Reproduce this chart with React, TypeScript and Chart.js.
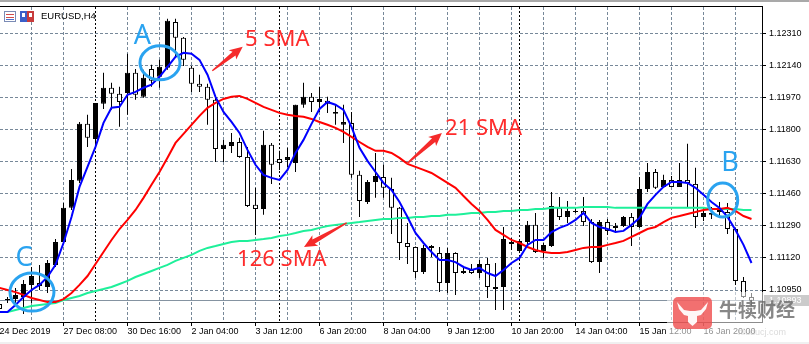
import React, { useEffect, useRef } from 'react';
import { Chart, registerables } from 'chart.js';
Chart.register(...registerables);

// ---- Candles (EURUSD H4), bar index 0..94 ----
const opens = [1.10876,1.10897,1.10902,1.10913,1.10977,1.10987,1.10966,1.11083,1.11204,1.11385,
1.11528,1.11830,1.11750,1.11936,1.12021,1.11989,1.11994,1.12100,1.11973,1.12121,
1.12079,1.12127,1.12370,1.12286,1.12127,1.12042,1.12026,1.11957,1.11697,1.11713,
1.11734,1.11655,1.11401,1.11379,1.11719,1.11644,1.11639,1.11623,1.11931,1.11973,
1.11946,1.11952,1.11883,1.11825,1.11835,1.11560,1.11416,1.11522,1.11549,1.11485,
1.11385,1.11199,1.11178,1.11045,1.11173,1.11146,1.10987,1.11146,1.11040,1.11056,
1.11040,1.11088,1.10955,1.10966,1.11194,1.11157,1.11204,1.11295,1.11157,1.11183,
1.11385,1.11337,1.11363,1.11369,1.11310,1.11098,1.11310,1.11279,1.11289,1.11337,
1.11284,1.11485,1.11575,1.11496,1.11533,1.11496,1.11533,1.11512,1.11337,1.11358,
1.11363,1.11363,1.11273,1.10998,1.10913];
const highs = [1.10886,1.10913,1.10961,1.11003,1.11072,1.11083,1.11109,1.11220,1.11411,1.11591,
1.11840,1.11878,1.11941,1.12100,1.12047,1.12026,1.12201,1.12121,1.12116,1.12143,
1.12169,1.12386,1.12386,1.12290,1.12137,1.12090,1.12042,1.11978,1.11745,1.11782,
1.11756,1.11708,1.11491,1.11793,1.11729,1.11687,1.11703,1.11931,1.12047,1.11994,
1.12026,1.11973,1.11931,1.11931,1.11893,1.11581,1.11533,1.11676,1.11613,1.11544,
1.11390,1.11305,1.11180,1.11189,1.11189,1.11178,1.11173,1.11150,1.11072,1.11088,
1.11109,1.11120,1.11093,1.11284,1.11226,1.11215,1.11316,1.11358,1.11199,1.11469,
1.11443,1.11422,1.11390,1.11443,1.11326,1.11321,1.11326,1.11305,1.11342,1.11358,
1.11549,1.11623,1.11591,1.11560,1.11554,1.11623,1.11724,1.11597,1.11390,1.11390,
1.11416,1.11411,1.11279,1.11019,1.10934];
const lows = [1.10844,1.10881,1.10881,1.10823,1.10881,1.10950,1.10934,1.11072,1.11199,1.11374,
1.11517,1.11708,1.11729,1.11909,1.11904,1.11814,1.11878,1.11957,1.11968,1.12026,
1.12021,1.12116,1.12185,1.12137,1.11999,1.11999,1.11825,1.11628,1.11628,1.11676,
1.11650,1.11390,1.11242,1.11348,1.11512,1.11586,1.11602,1.11575,1.11915,1.11893,
1.11893,1.11888,1.11825,1.11729,1.11544,1.11337,1.11406,1.11438,1.11438,1.11247,
1.11109,1.11088,1.11014,1.11035,1.11125,1.10939,1.10934,1.10924,1.11035,1.11035,
1.11014,1.10908,1.10844,1.10844,1.11162,1.11151,1.11194,1.11146,1.11120,1.11178,
1.11321,1.11305,1.11358,1.11289,1.11093,1.11040,1.11242,1.11252,1.11284,1.11183,
1.11279,1.11469,1.11485,1.11491,1.11496,1.11496,1.11390,1.11279,1.11316,1.11326,
1.11337,1.11247,1.10977,1.10908,1.10865];
const closes = [1.10849,1.10902,1.10924,1.10982,1.11024,1.10971,1.11093,1.11204,1.11385,1.11533,
1.11830,1.11756,1.11941,1.12021,1.11989,1.11946,1.12100,1.11984,1.12074,1.12058,
1.12132,1.12376,1.12286,1.12169,1.12042,1.12026,1.11957,1.11697,1.11719,1.11734,
1.11655,1.11395,1.11379,1.11719,1.11613,1.11623,1.11655,1.11931,1.11973,1.11946,
1.11962,1.11936,1.11893,1.11840,1.11560,1.11422,1.11522,1.11554,1.11491,1.11385,
1.11199,1.11178,1.11045,1.11173,1.11183,1.10987,1.11146,1.11040,1.11051,1.11040,
1.11088,1.10966,1.10966,1.11220,1.11204,1.11210,1.11295,1.11151,1.11189,1.11395,
1.11337,1.11369,1.11369,1.11310,1.11098,1.11310,1.11263,1.11289,1.11337,1.11284,
1.11485,1.11575,1.11491,1.11533,1.11496,1.11533,1.11517,1.11337,1.11358,1.11348,
1.11374,1.11273,1.10998,1.10913,1.10893];

// ---- Moving averages ----
const sma5 = [1.10833,1.10833,1.10871,1.10913,1.10950,1.10977,1.11019,1.11083,1.11199,1.11337,
1.11496,1.11602,1.11708,1.11835,1.11915,1.11920,1.11984,1.11999,1.12021,1.12037,
1.12079,1.12132,1.12185,1.12206,1.12201,1.12169,1.12090,1.11973,1.11893,1.11840,
1.11782,1.11692,1.11613,1.11560,1.11544,1.11533,1.11586,1.11676,1.11745,1.11830,
1.11909,1.11946,1.11931,1.11904,1.11814,1.11703,1.11634,1.11575,1.11517,1.11480,
1.11416,1.11337,1.11252,1.11199,1.11151,1.11109,1.11109,1.11098,1.11072,1.11056,
1.11067,1.11040,1.11024,1.11056,1.11093,1.11120,1.11189,1.11215,1.11215,1.11257,
1.11279,1.11295,1.11321,1.11358,1.11305,1.11284,1.11273,1.11257,1.11263,1.11295,
1.11332,1.11406,1.11454,1.11496,1.11522,1.11522,1.11517,1.11491,1.11454,1.11416,
1.11385,1.11337,1.11268,1.11189,1.11093];
const sma21 = [1.10961,1.10950,1.10939,1.10924,1.10908,1.10897,1.10886,1.10886,1.10902,1.10934,
1.10977,1.11024,1.11088,1.11151,1.11215,1.11273,1.11321,1.11374,1.11438,1.11507,
1.11575,1.11650,1.11729,1.11777,1.11825,1.11872,1.11915,1.11941,1.11962,1.11973,
1.11978,1.11962,1.11941,1.11920,1.11904,1.11888,1.11878,1.11872,1.11867,1.11856,
1.11840,1.11825,1.11809,1.11787,1.11761,1.11734,1.11708,1.11687,1.11687,1.11676,
1.11650,1.11618,1.11602,1.11586,1.11570,1.11544,1.11517,1.11491,1.11448,1.11406,
1.11369,1.11321,1.11268,1.11242,1.11215,1.11199,1.11178,1.11162,1.11151,1.11146,
1.11146,1.11151,1.11162,1.11173,1.11178,1.11178,1.11189,1.11199,1.11210,1.11231,
1.11252,1.11273,1.11284,1.11310,1.11332,1.11342,1.11353,1.11363,1.11374,1.11379,
1.11379,1.11385,1.11369,1.11342,1.11326];
const sma126 = [null,1.10833,1.10844,1.10855,1.10865,1.10871,1.10876,1.10881,1.10897,1.10908,
1.10918,1.10934,1.10945,1.10955,1.10966,1.10982,1.10998,1.11019,1.11035,1.11051,
1.11067,1.11083,1.11104,1.11120,1.11136,1.11157,1.11173,1.11183,1.11194,1.11204,
1.11210,1.11210,1.11215,1.11220,1.11226,1.11236,1.11242,1.11252,1.11263,1.11268,
1.11279,1.11289,1.11295,1.11300,1.11305,1.11310,1.11316,1.11321,1.11326,1.11326,
1.11332,1.11332,1.11337,1.11337,1.11342,1.11342,1.11348,1.11348,1.11353,1.11358,
1.11358,1.11363,1.11363,1.11369,1.11369,1.11374,1.11374,1.11379,1.11379,1.11385,
1.11385,1.11385,1.11385,1.11390,1.11390,1.11390,1.11390,1.11385,1.11385,1.11385,
1.11385,1.11385,1.11385,1.11385,1.11385,1.11385,1.11385,1.11385,1.11385,1.11379,
1.11379,1.11379,1.11379,1.11374,1.11374];

// ---- Axes ----
const yTicks = [1.1095, 1.1112, 1.1129, 1.1146, 1.1163, 1.118, 1.1197, 1.1214, 1.1231];
const gridIdx = [0,4,8,12,16,20,24,28,32,36,40,44,48,52,56,60,64,68,72,76,80,84,88,92];
const timeTickIdx = [0,8,16,24,32,40,48,56,64,72,80,88];
const timeTickLabels = ["24 Dec 2019","27 Dec 08:00","30 Dec 16:00","2 Jan 04:00","3 Jan 12:00",
  "6 Jan 20:00","8 Jan 04:00","9 Jan 12:00","10 Jan 20:00","14 Jan 04:00","15 Jan 12:00","16 Jan 20:00"];
const separatorIdx = [12, 35, 65];
const bidPrice = 1.10893;
const yMin = 1.107806;
const yMax = 1.124488;

// ---- Annotations (in data units) ----
const circleMarks = [
  { x: 20.06, y: 1.12153, rx: 20, ry: 17 },
  { x: 4.06, y: 1.10939, rx: 22, ry: 19 },
  { x: 90.4, y: 1.11427, rx: 15, ry: 17 },
];
const letterMarks = [
  { t: 'A', x: 17.87, y: 1.12291 },
  { t: 'C', x: 3.06, y: 1.11120 },
  { t: 'B', x: 91.3, y: 1.11623 },
];
const smaLabels = [
  { t: '5 SMA', x: 30.7, y: 1.12275 },
  { t: '21 SMA', x: 55.7, y: 1.11803 },
  { t: '126 SMA', x: 29.7, y: 1.11109 },
];
const arrows = [
  { x1: 26.6, y1: 1.12111, x2: 30.4, y2: 1.12238 },
  { x1: 50.9, y1: 1.11618, x2: 55.3, y2: 1.11782 },
  { x1: 43.4, y1: 1.11305, x2: 38.06, y2: 1.11178 },
];

const AXIS_FONT = '"Liberation Sans", Arial, sans-serif';

function drawArrow(ctx: CanvasRenderingContext2D, x1: number, y1: number, x2: number, y2: number) {
  const ang = Math.atan2(y2 - y1, x2 - x1);
  const len = Math.hypot(x2 - x1, y2 - y1);
  ctx.save();
  ctx.translate(x1, y1);
  ctx.rotate(ang);
  ctx.beginPath();
  ctx.moveTo(0, -0.7);
  ctx.lineTo(len - 11, -2.4);
  ctx.lineTo(len - 13, -6);
  ctx.lineTo(len, 0);
  ctx.lineTo(len - 13, 6);
  ctx.lineTo(len - 11, 2.4);
  ctx.lineTo(0, 0.7);
  ctx.closePath();
  ctx.fill();
  ctx.restore();
}

const decorPlugin = {
  id: 'decor',
  beforeDatasetsDraw(chart: any) {
    const { ctx, chartArea: a, scales } = chart;
    const x = scales.x, y = scales.y;
    ctx.save();
    ctx.lineWidth = 1;
    ctx.strokeStyle = '#000';
    ctx.setLineDash([2, 2]);
    separatorIdx.forEach((i) => {
      const px = Math.round(x.getPixelForValue(i) - 0.5) + 0.5;
      ctx.beginPath();
      ctx.moveTo(px, a.top);
      ctx.lineTo(px, a.bottom);
      ctx.stroke();
    });
    ctx.setLineDash([]);
    ctx.strokeStyle = '#8593a1';
    const by = Math.round(y.getPixelForValue(bidPrice) - 0.5) + 0.5;
    ctx.beginPath();
    ctx.moveTo(a.left, by);
    ctx.lineTo(a.right, by);
    ctx.stroke();
    ctx.restore();
  },
  afterDatasetsDraw(chart: any) {
    const { ctx, scales } = chart;
    const x = scales.x, y = scales.y;
    ctx.save();
    // circles
    ctx.strokeStyle = '#2aa3f0';
    ctx.lineWidth = 3;
    circleMarks.forEach((c) => {
      ctx.beginPath();
      ctx.ellipse(x.getPixelForValue(c.x), y.getPixelForValue(c.y), c.rx, c.ry, 0, 0, Math.PI * 2);
      ctx.stroke();
    });
    // letters
    ctx.fillStyle = '#2aa3f0';
    ctx.font = '27px "Noto Sans", sans-serif';
    ctx.textAlign = 'center';
    ctx.textBaseline = 'middle';
    letterMarks.forEach((l) => {
      ctx.fillText(l.t, x.getPixelForValue(l.x), y.getPixelForValue(l.y));
    });
    // red labels
    ctx.fillStyle = '#ff2b2b';
    ctx.font = '22px "Noto Sans", sans-serif';
    ctx.textAlign = 'left';
    smaLabels.forEach((l) => {
      ctx.fillText(l.t, x.getPixelForValue(l.x), y.getPixelForValue(l.y));
    });
    ctx.fillStyle = '#f52a2a';
    arrows.forEach((ar) => {
      drawArrow(ctx, x.getPixelForValue(ar.x1), y.getPixelForValue(ar.y1), x.getPixelForValue(ar.x2), y.getPixelForValue(ar.y2));
    });
    ctx.restore();
  },
  afterDraw(chart: any) {
    const { ctx, chartArea: a, scales, width } = chart;
    const y = scales.y;
    ctx.save();
    // window top strip and chart frame top
    ctx.fillStyle = '#a9a9a9';
    ctx.fillRect(0, 0, width, 2);
    ctx.fillStyle = '#000';
    ctx.fillRect(0, a.top - 1, a.right + 1, 1);
    // title icons
    ctx.fillStyle = '#ffffff';
    ctx.strokeStyle = '#7b8bb5';
    ctx.lineWidth = 1;
    ctx.fillRect(4.5, 11.5, 11, 10);
    ctx.strokeRect(4.5, 11.5, 11, 10);
    ctx.fillStyle = '#d24b4b';
    ctx.fillRect(6, 14, 8, 1);
    ctx.fillRect(6, 17, 8, 1);
    ctx.fillStyle = '#4a6fd0';
    ctx.fillRect(6, 19, 8, 1);
    ctx.fillStyle = '#3b5fc8';
    ctx.fillRect(20, 11, 7, 11);
    ctx.fillStyle = '#c83b3b';
    ctx.fillRect(27, 11, 7, 11);
    ctx.fillStyle = '#ffffff';
    ctx.fillRect(22, 13, 3, 4);
    ctx.fillRect(29, 13, 3, 4);
    // title
    ctx.fillStyle = '#000';
    ctx.font = '9.5px ' + AXIS_FONT;
    ctx.textAlign = 'left';
    ctx.textBaseline = 'middle';
    ctx.fillText('EURUSD,H4', 41, 16.5);
    // current price label
    const by = Math.round(y.getPixelForValue(bidPrice) - 0.5) + 0.5;
    ctx.fillStyle = '#8c8c8c';
    ctx.fillRect(a.right + 2, by - 5.5, width - a.right - 2, 11);
    ctx.fillStyle = '#fff';
    ctx.font = '9px ' + AXIS_FONT;
    ctx.fillText(bidPrice.toFixed(5), a.right + 7, by);
    // watermark
    ctx.fillStyle = 'rgba(255,255,255,0.55)';
    ctx.fillRect(667, 292, 142, 50);
    ctx.fillStyle = 'rgba(238,72,72,0.78)';
    ctx.beginPath();
    (ctx as any).roundRect(673, 297, 39, 32, 5);
    ctx.fill();
    ctx.fillStyle = 'rgba(255,255,255,0.95)';
    ctx.beginPath();
    ctx.moveTo(677, 302);
    ctx.lineTo(684, 310);
    ctx.lineTo(690, 311);
    ctx.lineTo(695, 311);
    ctx.lineTo(701, 310);
    ctx.lineTo(708, 302);
    ctx.lineTo(706, 309);
    ctx.lineTo(701, 315);
    ctx.lineTo(697, 316);
    ctx.lineTo(697, 322);
    ctx.lineTo(692.5, 326);
    ctx.lineTo(688, 322);
    ctx.lineTo(688, 316);
    ctx.lineTo(684, 315);
    ctx.lineTo(679, 309);
    ctx.closePath();
    ctx.fill();
    ctx.fillStyle = 'rgba(105,105,105,0.8)';
    ctx.font = 'bold 19px "Noto Sans CJK SC", sans-serif';
    ctx.textBaseline = 'middle';
    ctx.fillText('牛犊财经', 719, 310);
    ctx.fillStyle = 'rgba(150,150,150,0.35)';
    ctx.font = '9px ' + AXIS_FONT;
    ctx.fillText('niuducj.com', 738, 333);
    // bottom strip
    ctx.fillStyle = '#f0f0f0';
    ctx.fillRect(0, 342, width, 2);
    ctx.restore();
  },
};

export default function App() {
  const ref = useRef<HTMLCanvasElement>(null);
  useEffect(() => {
    const canvas = ref.current;
    if (!canvas) return;
    const bodyData = opens.map((o, i) => ({ x: i, y: [Math.min(o, closes[i]), Math.max(o, closes[i])] }));
    const bodyColors = opens.map((o, i) => (closes[i] >= o ? '#000000' : '#ffffff'));
    const wickData = lows.map((l, i) => ({ x: i, y: [l, highs[i]] }));
    const toXY = (arr: (number | null)[]) => arr.map((v, i) => ({ x: i, y: v }));

    const chart = new Chart(canvas, {
      type: 'bar',
      data: {
        datasets: [
          { type: 'line', label: 'SMA 5', data: toXY(sma5) as any, borderColor: '#0000ff', borderWidth: 2, pointRadius: 0, tension: 0, order: 1 },
          { type: 'line', label: 'SMA 21', data: toXY(sma21) as any, borderColor: '#ff0000', borderWidth: 2, pointRadius: 0, tension: 0, order: 2 },
          { type: 'line', label: 'SMA 126', data: toXY(sma126) as any, borderColor: '#1ef09a', borderWidth: 2, pointRadius: 0, tension: 0, order: 3 },
          { type: 'bar', label: 'body', data: bodyData as any, backgroundColor: bodyColors, borderColor: '#000000', borderWidth: 1, borderSkipped: false, barThickness: 5, grouped: false, inflateAmount: 0, minBarLength: 1, order: 4 } as any,
          { type: 'bar', label: 'wick', data: wickData as any, backgroundColor: '#000000', borderWidth: 0, barThickness: 1, grouped: false, inflateAmount: 0, order: 5 } as any,
        ],
      },
      options: {
        responsive: false,
        animation: false,
        events: [],
        layout: { padding: { top: 7, left: 0, right: 0, bottom: 0 } },
        plugins: { legend: { display: false }, tooltip: { enabled: false } },
        scales: {
          x: {
            type: 'linear',
            position: 'bottom',
            min: 0.0625,
            max: 95.3125,
            offset: false,
            afterBuildTicks: (s: any) => { s.ticks = gridIdx.map((v) => ({ value: v })); },
            afterFit: (s: any) => { s.height = 22; s.paddingLeft = 0; s.paddingRight = 0; },
            grid: {
              offset: false,
              lineWidth: 1,
              color: (c: any) => (c.tick && separatorIdx.includes(c.tick.value) ? 'rgba(0,0,0,0)' : '#778899'),
              tickLength: 4,
              tickColor: (c: any) => (c.tick && timeTickIdx.includes(c.tick.value) ? '#000000' : 'rgba(0,0,0,0)'),
            },
            border: { display: true, color: '#000000', width: 1, dash: [3, 2] },
            ticks: {
              autoSkip: false,
              maxRotation: 0,
              minRotation: 0,
              align: 'start',
              padding: 0,
              color: '#000000',
              font: { family: AXIS_FONT, size: 9 },
              callback: (v: any) => {
                const k = timeTickIdx.indexOf(Number(v));
                return k >= 0 ? timeTickLabels[k] : '';
              },
            },
          } as any,
          y: {
            type: 'linear',
            position: 'right',
            min: yMin,
            max: yMax,
            afterBuildTicks: (s: any) => { s.ticks = yTicks.map((v) => ({ value: v })); },
            afterFit: (s: any) => { s.width = 47; s.paddingTop = 0; s.paddingBottom = 0; },
            grid: { color: '#778899', lineWidth: 1, tickLength: 4, tickColor: '#000000' },
            border: { display: true, color: '#000000', width: 1, dash: [3, 2] },
            ticks: {
              autoSkip: false,
              padding: 3,
              color: '#000000',
              font: { family: AXIS_FONT, size: 9 },
              callback: (v: any) => Number(v).toFixed(5),
            },
          } as any,
        },
      },
      plugins: [decorPlugin],
    });
    return () => chart.destroy();
  }, []);
  return (
    <div style={{ position: 'absolute', left: 0, top: 0, width: 809, height: 344, background: '#ffffff' }}>
      <canvas ref={ref} width={809} height={344} style={{ display: 'block', width: 809, height: 344 }} />
    </div>
  );
}
